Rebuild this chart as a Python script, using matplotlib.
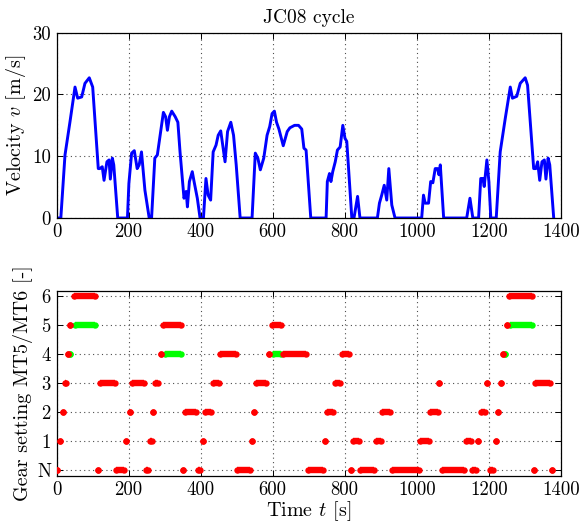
import matplotlib
matplotlib.use("Agg")
import matplotlib.pyplot as plt

plt.rcParams['font.family'] = ['cmr10', 'DejaVu Serif']
plt.rcParams['mathtext.fontset'] = 'cm'
plt.rcParams['axes.formatter.use_mathtext'] = True
plt.rcParams['axes.unicode_minus'] = False

# ---- velocity trace ----
time_s = [0, 12, 23.6, 37.5, 51.4, 58.8, 70, 79, 91, 100.5,
          116, 120.5, 127, 132, 140, 146, 149.5, 155, 159, 170,
          197, 201, 208.6, 216, 224, 229.6, 236, 245.5, 257.4, 264,
          273, 280, 296.8, 303, 308, 313.6, 320, 329.6, 337, 343,
          354, 360, 363.5, 369, 377, 382, 391, 398.6, 408, 415,
          421, 428, 435, 443, 449, 456, 461.6, 468, 475, 484,
          491.6, 499, 510, 543, 552, 559, 566, 575.5, 584.7, 592,
          598.6, 605, 611, 617.6, 629.6, 640.7, 648, 661, 672, 681,
          687, 693, 706, 748.6, 752, 758, 762, 767, 774, 780,
          787.6, 795, 801, 806, 820, 826, 836, 842.6, 891, 896.7,
          903, 910, 917, 922.7, 931, 940, 1014, 1019, 1023.6, 1033,
          1039, 1045, 1051.6, 1058, 1062, 1065.7, 1075, 1139, 1148, 1156,
          1172, 1178, 1184, 1187.6, 1195, 1200.6, 1206, 1221, 1232, 1246,
          1260, 1266, 1278, 1287.6, 1301.4, 1308, 1325, 1331, 1336, 1341.7,
          1348, 1354.6, 1359, 1365, 1369.6, 1380.6]
velocity = [0, 0, 10.2, 15.6, 21.2, 19.4, 19.6, 21.8, 22.7, 21.2,
            8.0, 8.0, 8.3, 6.1, 9.1, 9.4, 6.3, 9.7, 8.6, 0,
            0, 5.6, 10.5, 10.9, 8.0, 8.6, 10.7, 4.5, 0, 0,
            9.7, 10.2, 17.1, 16.4, 14.2, 16.4, 17.3, 16.4, 15.5, 10.7,
            3.2, 4.3, 1.8, 5.9, 7.5, 5.9, 3.2, 0, 0, 6.4,
            3.7, 2.9, 10.7, 11.8, 13.4, 14.1, 11.8, 9.1, 14.0, 15.5,
            13.4, 8.6, 0, 0, 10.5, 9.7, 7.8, 9.7, 13.4, 14.8,
            16.9, 17.3, 15.5, 14.4, 11.7, 14.0, 14.6, 15.0, 15.0, 14.4,
            11.3, 11.0, 0, 0, 5.9, 7.2, 5.9, 7.5, 9.1, 11.0,
            11.5, 15.0, 12.9, 12.4, 0, 0, 3.5, 0, 0, 2.4,
            3.7, 5.3, 2.9, 8.0, 2.1, 0, 0, 3.7, 2.4, 2.4,
            5.9, 5.7, 8.0, 8.0, 7.0, 8.6, 0, 0, 3.2, 0,
            0, 6.4, 6.4, 5.1, 9.4, 5.9, 0, 0, 10.7, 16.1,
            21.2, 19.4, 19.7, 21.8, 22.7, 21.5, 8.0, 8.0, 9.1, 6.1,
            9.1, 9.4, 6.3, 9.7, 8.6, 0]

# ---- gear settings: MT6 (red) intervals ----
mt6_gear = [0, 0, 0, 0, 0, 0, 0, 0, 0, 0, 0, 0, 0, 0, 0, 0,
            1, 1, 1, 1, 1, 1, 1, 1, 1, 1, 1, 1,
            2, 2, 2, 2, 2, 2, 2, 2, 2, 2, 2,
            3, 3, 3, 3, 3, 3, 3, 3, 3, 3, 3,
            4, 4, 4, 4, 4, 4, 4,
            5, 5, 5, 5,
            6, 6]
mt6_start = [0, 115, 166, 247.6, 352, 393, 502, 698.6, 818, 842, 931, 1070, 1154, 1203, 1325.5, 1376,
             9, 194, 259, 406, 542, 746, 823.6, 886.6, 1010.6, 1136.6, 1171.7, 1219,
             16.7, 203, 268, 358, 412.5, 548.6, 752, 905, 1038, 1178, 1226,
             23, 120, 210.7, 272.7, 435.6, 553, 772.6, 1063, 1196, 1234, 1330,
             33, 289.4, 455, 590, 629, 794, 1241,
             38.4, 296, 599.5, 1249.6,
             47.7, 1256]
mt6_end = [1, 115, 186.6, 254, 352, 399.5, 536.6, 740, 818, 881, 1006, 1131, 1166, 1212, 1325.5, 1376,
           9, 194, 265, 406, 542, 746, 839.4, 901.4, 1034, 1149.6, 1171.7, 1219,
           16.7, 203, 268, 387.5, 430, 548.6, 767, 927, 1058, 1189, 1226,
           27, 161.6, 242, 282, 450.5, 583, 788.4, 1063, 1196, 1234, 1370,
           33, 289.4, 498, 590, 694, 811.6, 1241,
           38.4, 346, 623.6, 1249.6,
           107.8, 1319]

# ---- gear settings: MT5 (green) where it differs from MT6 ----
mt5_gear = [4, 4, 4, 4, 5, 5]
mt5_start = [38, 300, 600, 1246, 50, 1258]
mt5_end = [38, 346, 622, 1246, 108, 1319]

gear_ticks = [0, 1, 2, 3, 4, 5, 6]
gear_labels = ['N', '1', '2', '3', '4', '5', '6']
time_ticks = [0, 200, 400, 600, 800, 1000, 1200, 1400]
vel_ticks = [0, 10, 20, 30]

W, H = 583, 529
fig = plt.figure(figsize=(W / 100, H / 100), dpi=100)
ax1 = fig.add_axes([56.5 / W, 1 - 218 / H, (560.7 - 56.5) / W, (218 - 32.7) / H])
ax2 = fig.add_axes([56.5 / W, 1 - 475.7 / H, (560.7 - 56.5) / W, (475.7 - 290.7) / H])

TFS = 13.5
LFS = 14.5


def style(ax):
    ax.tick_params(direction='in', top=True, right=True, length=4, width=0.7,
                   labelsize=TFS, pad=4)
    ax.grid(True, color='0.3', linestyle=(0, (1, 3)), linewidth=0.8)
    for s in ax.spines.values():
        s.set_linewidth(0.9)
    ax.set_axisbelow(True)


ax1.plot(time_s, velocity, color=(0, 0, 1), lw=2.1)
ax1.set_xlim(0, 1400)
ax1.set_ylim(0, 30)
ax1.set_xticks(time_ticks)
ax1.set_xticklabels([str(t) for t in time_ticks])
ax1.set_yticks(vel_ticks)
ax1.set_yticklabels([str(v) for v in vel_ticks])
ax1.set_ylabel(r'Velocity $v$ [m/s]', fontsize=LFS, labelpad=3)
ax1.set_title('JC08 cycle', fontsize=14, pad=7)
style(ax1)

LW = 4.6


def draw_intervals(ax, gears, starts, ends, color, z):
    ax.hlines(gears, starts, ends, colors=color, lw=LW, zorder=z)
    ax.plot(starts, gears, 'o', color=color, ms=LW, mec='none', zorder=z)
    ax.plot(ends, gears, 'o', color=color, ms=LW, mec='none', zorder=z)


draw_intervals(ax2, mt5_gear, mt5_start, mt5_end, (0, 1, 0), 3)
draw_intervals(ax2, mt6_gear, mt6_start, mt6_end, (1, 0, 0), 4)
ax2.set_xlim(0, 1400)
ax2.set_ylim(-0.19, 6.18)
ax2.set_xticks(time_ticks)
ax2.set_xticklabels([str(t) for t in time_ticks])
ax2.set_yticks(gear_ticks)
ax2.set_yticklabels(gear_labels)
ax2.set_ylabel('Gear setting MT5/MT6 [-]', fontsize=LFS, labelpad=3)
ax2.set_xlabel(r'Time $t$ [s]', fontsize=LFS, labelpad=0)
style(ax2)

fig.savefig('out.png', dpi=100)
